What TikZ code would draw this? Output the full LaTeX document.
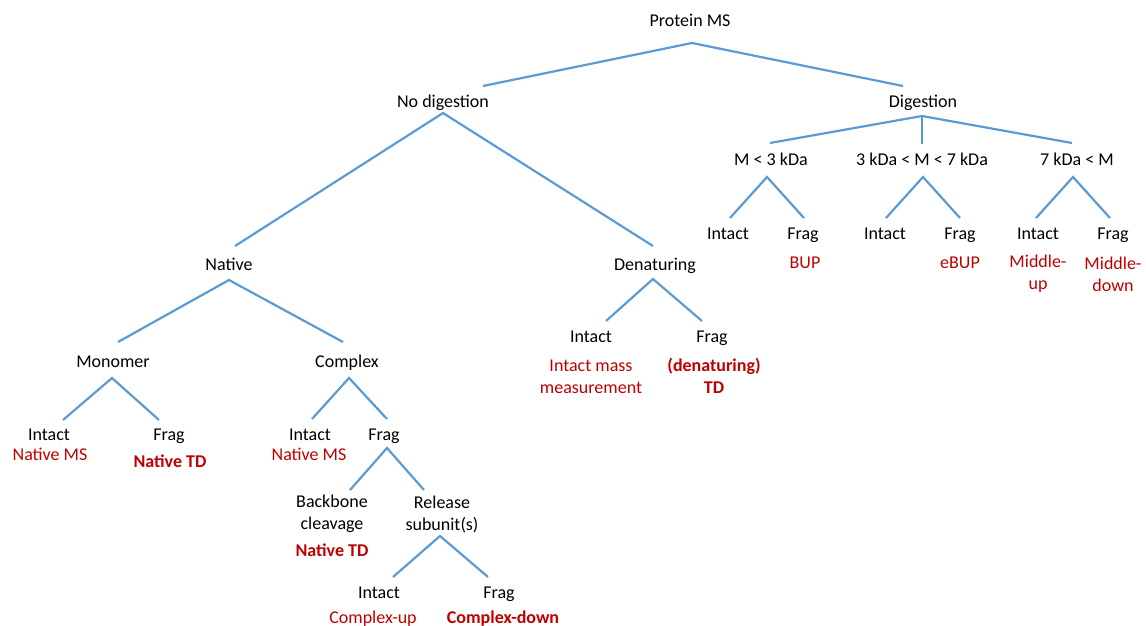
\documentclass[tikz,border=0pt]{standalone}
\usepackage{fontspec}
\setmainfont{Carlito}
\usetikzlibrary{calc}
\definecolor{lineblue}{RGB}{91,155,213}
\definecolor{txtred}{RGB}{192,0,0}
\begin{document}
\begin{tikzpicture}[x=1pt,y=-1pt,
  lbl/.style={inner sep=0pt,anchor=center,font=\fontsize{18}{22}\selectfont,text height=14pt,text depth=3pt},
  lbl2/.style={inner sep=0pt,anchor=center,align=center,font=\fontsize{18}{22}\selectfont},
  res/.style={lbl,text=txtred},
  resb/.style={lbl,text=txtred,font=\fontsize{18}{22}\selectfont\bfseries},
  res2/.style={lbl2,text=txtred},
  res2b/.style={lbl2,text=txtred,font=\fontsize{18}{22}\selectfont\bfseries},
  link/.style={draw=lineblue,line width=2.2pt}]
\useasboundingbox (0,0) rectangle (1146,626);
% nodes
\node[lbl] (pms) at (690,21) {Protein MS};
\node[lbl] (nodig) at (443,102) {No digestion};
\node[lbl] (dig) at (923,102) {Digestion};
\node[lbl] (m3) at (771,160) {M < 3 kDa};
\node[lbl] (m37) at (922,160) {3 kDa < M < 7 kDa};
\node[lbl] (m7) at (1077,160) {7 kDa < M};
\node[lbl] (i1) at (728,234) {Intact};
\node[lbl] (f1) at (803,234) {Frag};
\node[res] (bup) at (805,263) {BUP};
\node[lbl] (i2) at (885,234) {Intact};
\node[lbl] (f2) at (960,234) {Frag};
\node[res] (ebup) at (960,263) {eBUP};
\node[lbl] (i3) at (1038,234) {Intact};
\node[lbl] (f3) at (1113,234) {Frag};
\node[res2] (mu) at (1038,274) {Middle-\\up};
\node[res2] (md) at (1113,274) {Middle-\\down};
\node[lbl] (native) at (229,265) {Native};
\node[lbl] (denat) at (655,265) {Denaturing};
\node[lbl] (i4) at (591,337) {Intact};
\node[lbl] (f4) at (712,337) {Frag};
\node[res2] (ims) at (591,376.5) {Intact mass\\measurement};
\node[res2b] (dtd) at (714,375.5) {(denaturing)\\TD};
\node[lbl] (mono) at (113,362) {Monomer};
\node[lbl] (cplx) at (347,362) {Complex};
\node[lbl] (i5) at (49,435) {Intact};
\node[res] (nms1) at (50,455) {Native MS};
\node[lbl] (f5) at (169,435) {Frag};
\node[resb] (ntd1) at (170,462) {Native TD};
\node[lbl] (i6) at (310,435) {Intact};
\node[res] (nms2) at (309,455) {Native MS};
\node[lbl] (f6) at (384,435) {Frag};
\node[lbl2] (bb) at (332,514) {Backbone\\cleavage};
\node[resb] (ntd2) at (332,551) {Native TD};
\node[lbl2] (rs) at (442,514) {Release\\subunit(s)};
\node[lbl] (i7) at (379,593) {Intact};
\node[res] (cu) at (373,618) {Complex-up};
\node[lbl] (f7) at (499,593) {Frag};
\node[resb] (cd) at (503,618) {Complex-down};
% connectors
\draw[link] ($(nodig)+(40,-16)$) -- ($(pms)+(2,22)$) -- ($(dig)+(-20,-16)$);
\draw[link] ($(native)+(6,-19)$) -- ($(nodig)+(0,11)$) -- ($(denat)+(-2,-19)$);
\draw[link] ($(m3)+(-1,-17)$) -- ($(dig)+(-1,14)$) -- ($(m7)+(-5,-17)$);
\draw[link] ($(dig)+(-1,14)$) -- ($(m37)+(0,-16)$);
\draw[link] ($(i1)+(2,-16)$) -- ($(m3)+(-4,17)$) -- ($(f1)+(1,-16)$);
\draw[link] ($(i2)+(1,-16)$) -- ($(m37)+(1,17)$) -- ($(f2)+(0,-16)$);
\draw[link] ($(i3)+(-2,-16)$) -- ($(m7)+(-4,17)$) -- ($(f3)+(-3,-16)$);
\draw[link] ($(mono)+(5,-20)$) -- ($(native)+(0,15)$) -- ($(cplx)+(-4,-20)$);
\draw[link] ($(i4)+(15,-16)$) -- ($(denat)+(-2,14)$) -- ($(f4)+(-10,-16)$);
\draw[link] ($(i5)+(14,-15)$) -- ($(mono)+(-1,16)$) -- ($(f5)+(-10,-15)$);
\draw[link] ($(i6)+(2,-16)$) -- ($(cplx)+(2,16)$) -- ($(f6)+(3,-16)$);
\draw[link] ($(bb)+(18,-24)$) -- ($(f6)+(3,13)$) -- ($(rs)+(-18,-24)$);
\draw[link] ($(i7)+(14,-16)$) -- ($(rs)+(-2,22)$) -- ($(f7)+(-11,-16)$);
\end{tikzpicture}
\end{document}
